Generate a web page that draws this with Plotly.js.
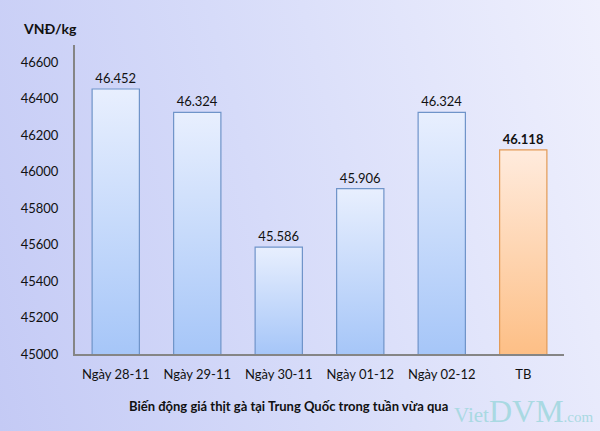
<!DOCTYPE html>
<html>
<head>
<meta charset="utf-8">
<script src="https://cdn.plot.ly/plotly-3.0.1.min.js"></script>
<style>
html,body{margin:0;padding:0;}
#chart{width:600px;height:431px;background:linear-gradient(75deg,#c4caf5 0%,#d6dbf9 45%,#eff0fd 100%);}
</style>
</head>
<body>
<div id="chart"></div>
<script>
const categories = ["Ngày 28-11","Ngày 29-11","Ngày 30-11","Ngày 01-12","Ngày 02-12","TB"];
const prices = [46452, 46324, 45586, 45906, 46324, 46118];
const labels = ["46.452","46.324","45.586","45.906","46.324","<b>46.118</b>"];
const yTicks = [45000,45200,45400,45600,45800,46000,46200,46400,46600];
const yTitle = "VNĐ/kg";
const xTitle = "Biến động giá thịt gà tại Trung Quốc trong tuần vừa qua";

const FONT = "Lato, 'Open Sans', sans-serif";
const trace = {
  type: "bar",
  x: categories,
  y: prices,
  text: labels,
  textposition: "outside",
  textfont: {family: FONT, size: 13, color: "#111"},
  cliponaxis: false,
  marker: {
    color: categories.map((c,i)=> i===categories.length-1 ? "#fdd2ae" : "#c9dbfb"),
    line: {color: categories.map((c,i)=> i===categories.length-1 ? "#e39a55" : "#6f94c9"), width: 1.2}
  },
  hoverinfo: "none"
};
const layout = {
  width: 600, height: 431,
  margin: {l: 75, r: 36, t: 45, b: 77},
  paper_bgcolor: "rgba(0,0,0,0)",
  plot_bgcolor: "rgba(0,0,0,0)",
  bargap: 0.42,
  showlegend: false,
  font: {family: FONT, size: 13, color: "#111"},
  xaxis: {
    type: "category",
    showline: true, linecolor: "#858585", linewidth: 2,
    ticks: "outside", ticklen: 7, tickcolor: "rgba(0,0,0,0)",
    tickfont: {family: FONT, size: 13, color: "#111"},
    showgrid: false, zeroline: false, fixedrange: true
  },
  yaxis: {
    range: [45000, 46693],
    tickvals: yTicks,
    ticktext: yTicks.map(String),
    showline: true, linecolor: "#858585", linewidth: 2,
    ticks: "outside", ticklen: 12, tickcolor: "rgba(0,0,0,0)",
    tickfont: {family: FONT, size: 13, color: "#111"},
    showgrid: false, zeroline: false, fixedrange: true
  },
  annotations: [
    {text: "<b>" + yTitle + "</b>", xref: "paper", yref: "paper", x: (50-75)/489, y: 1 + (45-29)/309,
     showarrow: false, xanchor: "center", yanchor: "middle", font: {family: FONT, size: 14, color: "#111"}},
    {text: "<b>" + xTitle + "</b>", xref: "paper", yref: "paper", x: (288-75)/489, y: -(406-354)/309,
     showarrow: false, xanchor: "center", yanchor: "middle", font: {family: FONT, size: 13, color: "#111"}},
    {text: "Viet<span style='font-size:32px'>DVM</span><span style='font-size:15px'>.com</span>",
     xref: "paper", yref: "paper", x: (595-75)/489, y: -(411-354)/309,
     showarrow: false, xanchor: "right", yanchor: "middle",
     font: {family: "'Liberation Serif', 'Times New Roman', serif", size: 21, color: "#a9d9e2"}}
  ]
};
const NS = "http://www.w3.org/2000/svg";
function applyGrad(gd){
  const svg = gd.querySelector("svg.main-svg");
  let defs = svg.querySelector("defs");
  if(!defs){ defs = document.createElementNS(NS,"defs"); svg.insertBefore(defs, svg.firstChild); }
  const ya = gd._fullLayout.yaxis;
  const yBottom = ya.l2p(ya.range[0]);
  const pts = gd.querySelectorAll(".trace.bars .point path");
  pts.forEach((p,i)=>{
    const last = i===pts.length-1;
    const bb = p.getBBox();
    const g = document.createElementNS(NS,"linearGradient");
    const id = "barGrad" + i;
    g.setAttribute("id", id);
    g.setAttribute("gradientUnits","userSpaceOnUse");
    g.setAttribute("x1", bb.x); g.setAttribute("x2", bb.x);
    g.setAttribute("y1", bb.y); g.setAttribute("y2", yBottom);
    const cols = last ? ["#ffebdd","#fdbf86"] : ["#e8effe","#a6c6f8"];
    cols.forEach((c,k)=>{
      const s = document.createElementNS(NS,"stop");
      s.setAttribute("offset", k===0 ? "0" : "1");
      s.setAttribute("stop-color", c);
      g.appendChild(s);
    });
    defs.appendChild(g);
    p.style.setProperty("fill", "url(#" + id + ")");
  });
}
Plotly.newPlot("chart", [trace], layout, {displayModeBar: false, staticPlot: true}).then(gd => {
  applyGrad(gd);
});
</script>
</body>
</html>
